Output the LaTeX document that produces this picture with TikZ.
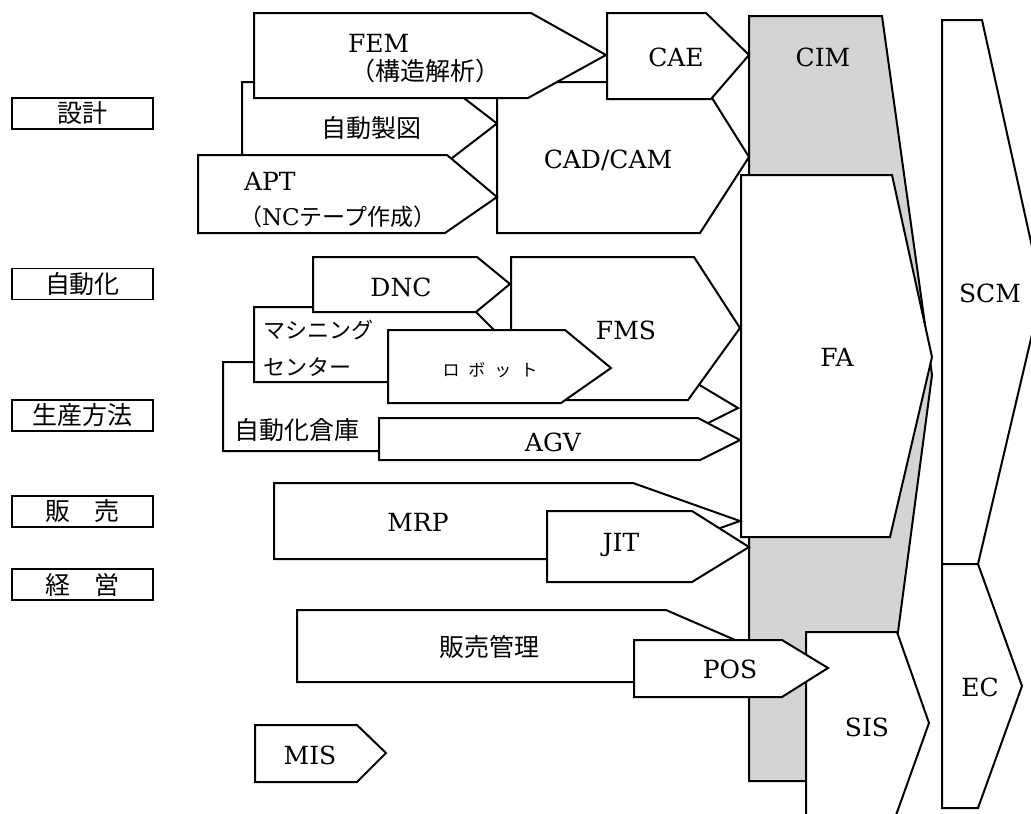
\documentclass[tikz,border=0pt]{standalone}
\usepackage{fontspec}
\setmainfont{DejaVu Serif}
\newfontfamily\ja{Noto Sans CJK JP}

\begin{document}
\begin{tikzpicture}[x=1pt, y=-1pt, line width=2pt,
  blk/.style={draw, fill=white},
  cimfill/.style={draw, fill=black!17},
  lat/.style={font=\fontsize{25}{25}\selectfont, inner sep=0pt},
  jp/.style={font=\ja\fontsize{#1}{#1}\selectfont, inner sep=0pt},
  jp/.default=24,
  catbox/.style={draw, line width=1.6pt, minimum width=141pt, minimum height=31pt,
    inner sep=0pt, font=\ja\fontsize{25}{25}\selectfont}]
  \fill[white] (0,0) rectangle (1031,814);
  \useasboundingbox (0,0) rectangle (1031,814);
  \clip (0,0) rectangle (1031,814);

  \foreach \y/\lbl [count=\k] in {113.5/設計, 284/自動化, 415.5/生産方法, 511.5/販　売, 584.5/経　営}
    \node[catbox] (cat\k) at (82.5,\y) {\lbl};

  % right columns
  \filldraw[cimfill] (749,16) -- (882,16) -- (932,375) -- (898,632) -- (806,632)
    -- (806,781) -- (749,781) -- cycle;
  \filldraw[blk] (741,175) -- (892,175) -- (932,357) -- (890,537) -- (741,537) -- cycle;
  \filldraw[blk] (806,632) -- (897,632) -- (929,723) -- (895,818) -- (806,818) -- cycle;
  \filldraw[blk] (942,20) -- (982,20) -- (1042,292) -- (978,564) -- (942,564) -- cycle;
  \filldraw[blk] (942,564) -- (978,564) -- (1022,686) -- (978,808) -- (942,808) -- cycle;
  \node[lat] (cim) at (823,57) {CIM};
  \node[lat] (fa) at (837,357) {FA};
  \node[lat] (sis) at (867,727) {SIS};
  \node[lat] (scm) at (990,293) {SCM};
  \node[lat] (ec) at (980,687) {EC};

  % design
  \filldraw[blk] (242,82) -- (443,82) -- (497,123.5) -- (443,165) -- (242,165) -- cycle;
  \filldraw[blk] (497,82) -- (702,82) -- (749,157) -- (700,233) -- (497,233) -- cycle;
  \filldraw[blk] (254,13) -- (531,13) -- (606,55) -- (528,98) -- (254,98) -- cycle;
  \filldraw[blk] (607,13) -- (706,13) -- (749,55) -- (711,99) -- (607,99) -- cycle;
  \filldraw[blk] (198,155) -- (447,155) -- (497,197) -- (445,233) -- (198,233) -- cycle;
  \node[lat, anchor=west] (fem) at (347,43) {FEM};
  \node[jp=25, anchor=west] (femsub) at (349,71) {（構造解析）};
  \node[lat] (cae) at (676,57) {CAE};
  \node[jp=25] (draft) at (371,128) {自動製図};
  \node[lat] (cadcam) at (608,160) {CAD/CAM};
  \node[lat, anchor=west] (apt) at (243,181) {APT};
  \node[jp=23, anchor=west] (aptsub) at (238,217) {（{\rmfamily NC}テープ作成）};

  % automation
  \filldraw[blk] (223,362) -- (661,362) -- (738,408) -- (652,451) -- (223,451) -- cycle;
  \filldraw[blk] (254,307) -- (471,307) -- (508,344) -- (471,382) -- (254,382) -- cycle;
  \filldraw[blk] (511,257) -- (694,257) -- (740,328) -- (688,400) -- (511,400) -- cycle;
  \filldraw[blk] (313,257) -- (477,257) -- (510,284) -- (476,312) -- (313,312) -- cycle;
  \filldraw[blk] (388,330) -- (565,330) -- (611,368) -- (561,403) -- (388,403) -- cycle;
  \filldraw[blk] (379,418) -- (698,418) -- (740,440) -- (700,460) -- (379,460) -- cycle;
  \node[lat] (dnc) at (401,287) {DNC};
  \node[lat] (fms) at (626,330) {FMS};
  \node[jp=22, anchor=west] (mc1) at (262,330) {マシニング};
  \node[jp=22, anchor=west] (mc2) at (262,367) {センター};
  \node[jp=17] (robot) at (490,370) {ロ\hspace{9pt}ボ\hspace{9pt}ッ\hspace{9pt}ト};
  \node[jp=25] (store) at (297,430) {自動化倉庫};
  \node[lat] (agv) at (553,442) {AGV};

  % production, sales, management
  \filldraw[blk] (274,483) -- (633,483) -- (740,521) -- (633,559) -- (274,559) -- cycle;
  \filldraw[blk] (547,511) -- (692,511) -- (749,547) -- (692,582) -- (547,582) -- cycle;
  \filldraw[blk] (297,610) -- (666,610) -- (749,646) -- (666,682) -- (297,682) -- cycle;
  \filldraw[blk] (634,640) -- (782,640) -- (828,668) -- (782,697) -- (634,697) -- cycle;
  \filldraw[blk] (255,725) -- (357,725) -- (386,753) -- (357,782) -- (255,782) -- cycle;
  \node[lat] (mrp) at (418,522) {MRP};
  \node[lat] (jit) at (621,545) {JIT};
  \node[jp=25] (sales) at (489,647) {販売管理};
  \node[lat] (pos) at (730,669) {POS};
  \node[lat] (mis) at (310,755) {MIS};
\end{tikzpicture}
\end{document}
